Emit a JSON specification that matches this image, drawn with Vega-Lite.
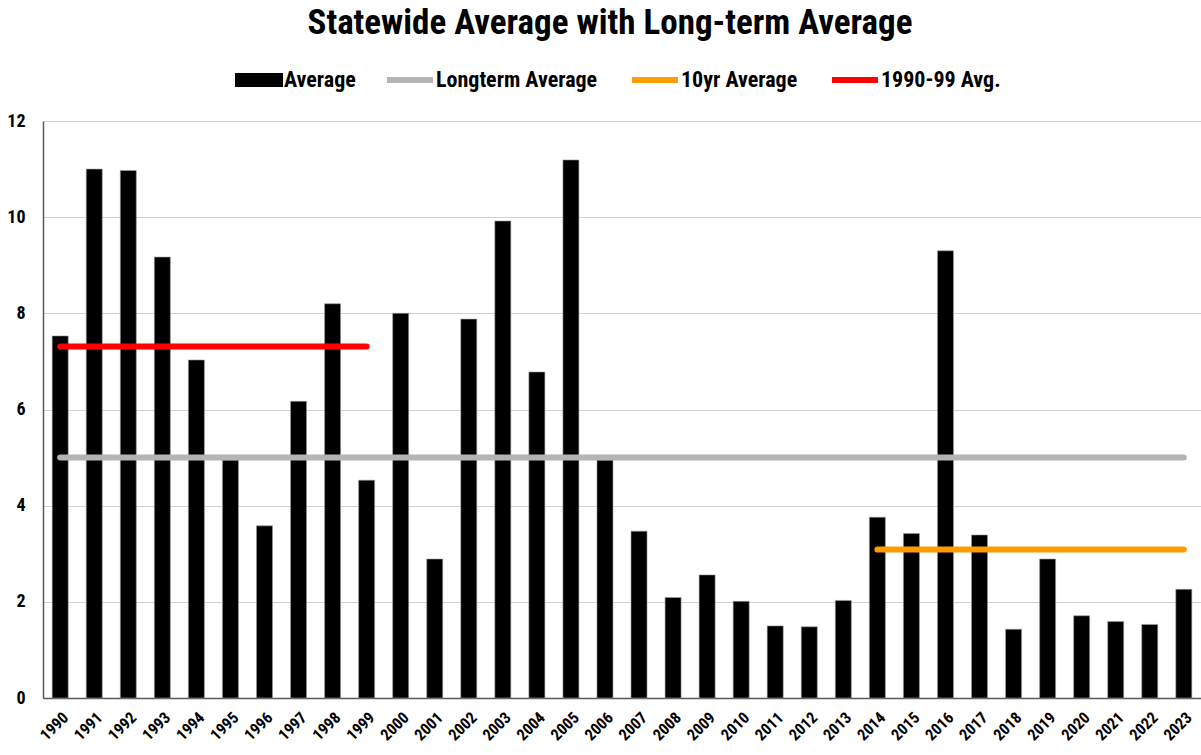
{
  "$schema": "https://vega.github.io/schema/vega-lite/v6.json",
  "width": 1158,
  "height": 577,
  "autosize": "none",
  "padding": {"left": 43, "top": 121, "right": 0, "bottom": 57},
  "background": "white",
  "config": {
    "font": "'Roboto Condensed', 'DejaVu Sans Condensed', 'Liberation Sans Narrow', Roboto, sans-serif",
    "view": {"stroke": null},
    "axis": {"labelFont": "'Roboto Condensed', 'DejaVu Sans Condensed', 'Liberation Sans Narrow', Roboto, sans-serif", "labelFontWeight": "bold", "labelColor": "#000000"},
    "legend": {
      "labelFont": "'Roboto Condensed', 'DejaVu Sans Condensed', 'Liberation Sans Narrow', Roboto, sans-serif",
      "labelFontSize": 22,
      "labelFontWeight": "bold",
      "labelColor": "#000000",
      "labelLimit": 400,
      "columnPadding": 22,
      "symbolSize": 576,
      "padding": 0
    }
  },
  "title": {
    "text": "Statewide Average with Long-term Average",
    "font": "'Roboto Condensed', 'DejaVu Sans Condensed', 'Liberation Sans Narrow', Roboto, sans-serif",
    "fontSize": 35,
    "fontWeight": "bold",
    "color": "#000000",
    "anchor": "middle",
    "offset": 24,
    "dx": -12
  },
  "data": {
    "values": [
      {"year": "1990", "avg": 7.53, "longterm": 5.0, "decade": 7.31, "tenyr": null},
      {"year": "1991", "avg": 11.0, "longterm": 5.0, "decade": 7.31, "tenyr": null},
      {"year": "1992", "avg": 10.97, "longterm": 5.0, "decade": 7.31, "tenyr": null},
      {"year": "1993", "avg": 9.17, "longterm": 5.0, "decade": 7.31, "tenyr": null},
      {"year": "1994", "avg": 7.03, "longterm": 5.0, "decade": 7.31, "tenyr": null},
      {"year": "1995", "avg": 4.95, "longterm": 5.0, "decade": 7.31, "tenyr": null},
      {"year": "1996", "avg": 3.58, "longterm": 5.0, "decade": 7.31, "tenyr": null},
      {"year": "1997", "avg": 6.17, "longterm": 5.0, "decade": 7.31, "tenyr": null},
      {"year": "1998", "avg": 8.2, "longterm": 5.0, "decade": 7.31, "tenyr": null},
      {"year": "1999", "avg": 4.53, "longterm": 5.0, "decade": 7.31, "tenyr": null},
      {"year": "2000", "avg": 8.0, "longterm": 5.0, "decade": null, "tenyr": null},
      {"year": "2001", "avg": 2.89, "longterm": 5.0, "decade": null, "tenyr": null},
      {"year": "2002", "avg": 7.88, "longterm": 5.0, "decade": null, "tenyr": null},
      {"year": "2003", "avg": 9.92, "longterm": 5.0, "decade": null, "tenyr": null},
      {"year": "2004", "avg": 6.78, "longterm": 5.0, "decade": null, "tenyr": null},
      {"year": "2005", "avg": 11.19, "longterm": 5.0, "decade": null, "tenyr": null},
      {"year": "2006", "avg": 4.95, "longterm": 5.0, "decade": null, "tenyr": null},
      {"year": "2007", "avg": 3.47, "longterm": 5.0, "decade": null, "tenyr": null},
      {"year": "2008", "avg": 2.09, "longterm": 5.0, "decade": null, "tenyr": null},
      {"year": "2009", "avg": 2.56, "longterm": 5.0, "decade": null, "tenyr": null},
      {"year": "2010", "avg": 2.01, "longterm": 5.0, "decade": null, "tenyr": null},
      {"year": "2011", "avg": 1.5, "longterm": 5.0, "decade": null, "tenyr": null},
      {"year": "2012", "avg": 1.48, "longterm": 5.0, "decade": null, "tenyr": null},
      {"year": "2013", "avg": 2.03, "longterm": 5.0, "decade": null, "tenyr": null},
      {"year": "2014", "avg": 3.76, "longterm": 5.0, "decade": null, "tenyr": 3.09},
      {"year": "2015", "avg": 3.42, "longterm": 5.0, "decade": null, "tenyr": 3.09},
      {"year": "2016", "avg": 9.3, "longterm": 5.0, "decade": null, "tenyr": 3.09},
      {"year": "2017", "avg": 3.39, "longterm": 5.0, "decade": null, "tenyr": 3.09},
      {"year": "2018", "avg": 1.43, "longterm": 5.0, "decade": null, "tenyr": 3.09},
      {"year": "2019", "avg": 2.89, "longterm": 5.0, "decade": null, "tenyr": 3.09},
      {"year": "2020", "avg": 1.71, "longterm": 5.0, "decade": null, "tenyr": 3.09},
      {"year": "2021", "avg": 1.59, "longterm": 5.0, "decade": null, "tenyr": 3.09},
      {"year": "2022", "avg": 1.53, "longterm": 5.0, "decade": null, "tenyr": 3.09},
      {"year": "2023", "avg": 2.26, "longterm": 5.0, "decade": null, "tenyr": 3.09}
    ]
  },
  "encoding": {
    "x": {
      "field": "year",
      "type": "ordinal",
      "title": null,
      "scale": {"paddingInner": 0.53, "paddingOuter": 0.27},
      "axis": {
        "labelAngle": -45,
        "labelFontSize": 16,
        "labelPadding": 11,
        "ticks": false,
        "domainColor": "#595959",
        "domainWidth": 1.5,
        "grid": false
      }
    }
  },
  "resolve": {"scale": {"color": "independent"}},
  "layer": [
    {
      "mark": {"type": "bar", "stroke": "#9a9a9a", "strokeWidth": 0.6},
      "encoding": {
        "y": {
          "field": "avg",
          "type": "quantitative",
          "title": null,
          "scale": {"domain": [0, 12], "nice": false},
          "axis": {
            "values": [0, 2, 4, 6, 8, 10, 12],
            "labelFontSize": 18,
            "labelPadding": 18,
            "ticks": false,
            "domainColor": "#595959",
            "domainWidth": 1.5,
            "gridColor": "#d0d0d0",
            "gridWidth": 1.2
          }
        },
        "color": {
          "datum": "Average",
          "type": "nominal",
          "scale": {"domain": ["Average"], "range": ["#000000"]},
          "legend": {
            "orient": "none",
            "direction": "horizontal",
            "title": null,
            "legendX": 192,
            "legendY": -53,
            "labelOffset": 25,
            "symbolStrokeWidth": 0,
            "symbolType": "M-1,-0.58H3V0.58H-1Z"
          }
        }
      }
    },
    {
      "layer": [
        {
          "mark": {"type": "line", "strokeWidth": 6, "strokeCap": "round"},
          "encoding": {
            "y": {"field": "longterm", "type": "quantitative"},
            "color": {
              "datum": "Longterm Average",
              "type": "nominal",
              "scale": {
                "domain": ["Longterm Average", "10yr Average", "1990-99 Avg."],
                "range": ["#b4b4b4", "#ff9c00", "#ff0000"]
              },
              "legend": {
                "orient": "none",
                "direction": "horizontal",
                "title": null,
                "legendX": 341,
                "legendY": -56,
                "labelOffset": 22,
                "symbolStrokeWidth": 6,
                "symbolType": "M-1,0H2.83"
              }
            }
          }
        },
        {
          "mark": {"type": "line", "strokeWidth": 6, "strokeCap": "round"},
          "encoding": {
            "y": {"field": "tenyr", "type": "quantitative"},
            "color": {"datum": "10yr Average", "type": "nominal"}
          }
        },
        {
          "mark": {"type": "line", "strokeWidth": 6, "strokeCap": "round"},
          "encoding": {
            "y": {"field": "decade", "type": "quantitative"},
            "color": {"datum": "1990-99 Avg.", "type": "nominal"}
          }
        }
      ]
    }
  ]
}
